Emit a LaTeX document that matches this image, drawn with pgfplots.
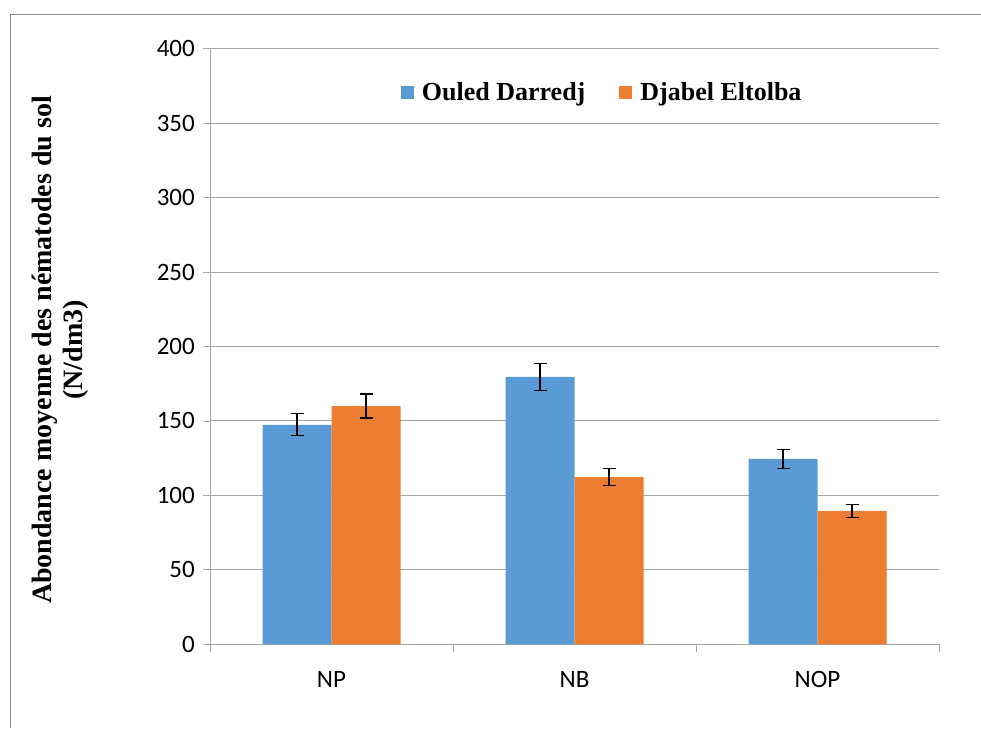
\documentclass[border=0pt]{standalone}
\usepackage{pgfplots}
\pgfplotsset{compat=1.18}
\usepackage{fontspec}
\setmainfont{Liberation Serif}
\newfontfamily\carlito{Carlito}
\definecolor{cblue}{HTML}{5B9BD5}
\definecolor{corange}{HTML}{ED7D31}
\definecolor{gridgray}{HTML}{A6A6A6}
\begin{document}
\begin{tikzpicture}
\path[use as bounding box] (0pt,0pt) rectangle (981pt,728pt);
\draw[color=gridgray!80!black, line width=1pt] (10pt,0pt) -- (10pt,713pt) -- (981pt,713pt);
\begin{axis}[
  at={(210pt,83.7pt)}, anchor=south west,
  scale only axis, width=729pt, height=595.6pt,
  xmin=-0.5, xmax=2.5, ymin=0, ymax=400,
  ytick={0,50,...,400},
  xtick={0,1,2}, xticklabels={NP,NB,NOP},
  minor xtick={-0.5,0.5,1.5,2.5},
  major x tick style={draw=none},
  tick align=outside,
  major tick length=7pt, minor tick length=8pt,
  tick style={color=gridgray, line width=0.8pt},
  axis x line*=bottom, axis y line*=left,
  axis line style={color=gridgray, line width=1pt},
  ymajorgrids, grid style={color=gridgray, line width=1pt},
  /pgf/number format/assume math mode=true,
  ticklabel style={font=\carlito\fontsize{25}{30}\selectfont},
  yticklabel style={inner sep=0pt, xshift=-8pt},
  xticklabel style={inner sep=0pt, yshift=-20pt},
  ybar, bar width=69pt,
  legend style={draw=none, fill=none, at={(0.538,0.927)}, anchor=center,
    font=\bfseries\fontsize{26}{30}\selectfont, legend columns=2,
    /tikz/every odd column/.append style={column sep=6pt},
    /tikz/every even column/.append style={column sep=32pt}},
  legend image code/.code={\fill[#1] (0pt,-7pt) rectangle (13pt,6pt);},
  error bars/error bar style={black, line width=1.3pt},
  error bars/error mark options={rotate=90, mark size=6.5pt, line width=1.3pt, black},
]
\addplot+[bar shift=-34.5pt, fill=cblue, draw=none,
  error bars/.cd, y dir=both, y explicit]
  coordinates {(0,147.4) +- (0,7.4) (1,179.6) +- (0,9) (2,124.5) +- (0,6.2)};
\addplot+[bar shift=34.5pt, fill=corange, draw=none,
  error bars/.cd, y dir=both, y explicit]
  coordinates {(0,160) +- (0,8) (1,112.2) +- (0,5.7) (2,89.6) +- (0,4.4)};
\legend{Ouled Darredj, Djabel Eltolba}
\end{axis}
\node[rotate=90, align=center, font=\bfseries\fontsize{28}{31}\selectfont] at (60pt,378pt) {Abondance moyenne des nématodes du sol\\(N/dm3)};
\end{tikzpicture}
\end{document}
